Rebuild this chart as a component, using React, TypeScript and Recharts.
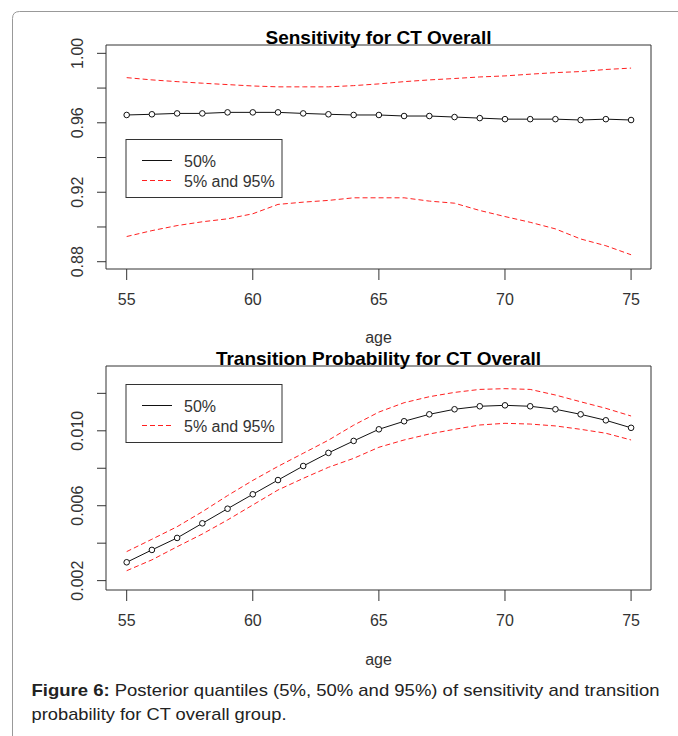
import React from 'react';
import { LineChart, Line, XAxis, YAxis, ReferenceArea } from 'recharts';

// ages on the x axis
const ages = [55, 56, 57, 58, 59, 60, 61, 62, 63, 64, 65, 66, 67, 68, 69, 70, 71, 72, 73, 74, 75];

// sensitivity quantiles
const sensMedian = [0.9645, 0.9649, 0.9654, 0.9654, 0.966, 0.966, 0.966, 0.9654, 0.9649, 0.9645, 0.9645, 0.9639, 0.9639, 0.9633, 0.9627, 0.9621, 0.9621, 0.9621, 0.9616, 0.9621, 0.9616];
const sensUpper = [0.986, 0.9847, 0.9837, 0.9828, 0.982, 0.9812, 0.9807, 0.9807, 0.9807, 0.9814, 0.9824, 0.9837, 0.9847, 0.9855, 0.9864, 0.987, 0.988, 0.9889, 0.9895, 0.9907, 0.9915];
const sensLower = [0.8945, 0.8979, 0.9008, 0.903, 0.9047, 0.9076, 0.913, 0.9143, 0.9153, 0.9168, 0.9168, 0.9168, 0.9149, 0.9137, 0.9095, 0.906, 0.9027, 0.8989, 0.8931, 0.8892, 0.884];

// transition probability quantiles
const transMedian = [0.00298, 0.00364, 0.00428, 0.00506, 0.00584, 0.00661, 0.00737, 0.00812, 0.00882, 0.00946, 0.01008, 0.01051, 0.01088, 0.01115, 0.01131, 0.01136, 0.01131, 0.01115, 0.01088, 0.01056, 0.01016];
const transUpper = [0.00355, 0.00421, 0.00488, 0.00568, 0.00654, 0.00735, 0.0081, 0.0088, 0.0095, 0.0103, 0.011, 0.0115, 0.01182, 0.01205, 0.01221, 0.01225, 0.01221, 0.01191, 0.01155, 0.0112, 0.01079];
const transLower = [0.00253, 0.00311, 0.00381, 0.00449, 0.00524, 0.00604, 0.00684, 0.00746, 0.00805, 0.00853, 0.00912, 0.00951, 0.00983, 0.01008, 0.01031, 0.0104, 0.01036, 0.01026, 0.01008, 0.00987, 0.00951];

// axis ticks
const xTicks = [55, 60, 65, 70, 75];
const sensTicks = [0.88, 0.9, 0.92, 0.94, 0.96, 0.98, 1.0];
const sensLabels = [0.88, 0.92, 0.96, 1.0];
const transTicks = [0.002, 0.004, 0.006, 0.008, 0.01, 0.012];
const transLabels = [0.002, 0.006, 0.01];

const xDomain = [54.18, 75.79];
const sensDomain = [0.8758, 1.0048];
const transDomain = [0.0015, 0.01346];

const FONT = '"Liberation Sans", Arial, sans-serif';
const INK = '#333';
const RED = '#ff2020';

const sensData = ages.map((age, i) => ({ age, median: sensMedian[i], lower: sensLower[i], upper: sensUpper[i] }));
const transData = ages.map((age, i) => ({ age, median: transMedian[i], lower: transLower[i], upper: transUpper[i] }));

const XTick = (props: any) => {
  const { x, y, payload } = props;
  return (
    <text x={x} y={y + 25} textAnchor="middle" fontSize={16} fontFamily={FONT} fill={INK}>
      {payload.value}
    </text>
  );
};

const makeYTick = (shown: number[], digits: number) => (props: any) => {
  const { x, y, payload } = props;
  const hit = shown.some(v => Math.abs(v - payload.value) < 1e-9);
  if (!hit) return <g />;
  const bx = x - 14;
  return (
    <text x={bx} y={y} transform={`rotate(-90, ${bx}, ${y})`} textAnchor="middle" fontSize={16} fontFamily={FONT} fill={INK}>
      {payload.value.toFixed(digits)}
    </text>
  );
};

const QuantilePanel = ({ data, ticks, yTick, domain, height, top }: any) => (
  <LineChart width={678} height={height} data={data} margin={{ top, right: 27, bottom: 0, left: 0 }}>
    <ReferenceArea x1={xDomain[0]} x2={xDomain[1]} y1={domain[0]} y2={domain[1]} fill="none" stroke={INK} strokeWidth={1} fillOpacity={0} ifOverflow="visible" />
    <XAxis
      dataKey="age"
      type="number"
      domain={xDomain}
      ticks={xTicks}
      allowDataOverflow
      axisLine={false}
      tickLine={{ stroke: INK }}
      tickSize={11}
      tickMargin={0}
      height={height - top - 224}
      tick={XTick}
    />
    <YAxis
      type="number"
      domain={domain}
      ticks={ticks}
      allowDataOverflow
      axisLine={false}
      tickLine={{ stroke: INK }}
      tickSize={9}
      tickMargin={0}
      width={106}
      tick={yTick}
    />
    <Line dataKey="upper" stroke={RED} strokeWidth={1} strokeDasharray="5 3" dot={false} isAnimationActive={false} />
    <Line dataKey="lower" stroke={RED} strokeWidth={1} strokeDasharray="5 3" dot={false} isAnimationActive={false} />
    <Line dataKey="median" stroke="#111" strokeWidth={1} dot={{ r: 2.8, stroke: '#111', strokeWidth: 1, fill: '#fff' }} isAnimationActive={false} />
  </LineChart>
);

const LegendBox = ({ x, y }: { x: number; y: number }) => (
  <g>
    <rect x={x} y={y} width={156} height={58} fill="#fff" stroke={INK} strokeWidth={1} />
    <line x1={x + 16} x2={x + 46} y1={y + 21} y2={y + 21} stroke="#111" strokeWidth={1} />
    <line x1={x + 16} x2={x + 46} y1={y + 41} y2={y + 41} stroke={RED} strokeWidth={1} strokeDasharray="5 3" />
    <text x={x + 58} y={y + 27} fontSize={16} fontFamily={FONT} fill={INK}>50%</text>
    <text x={x + 58} y={y + 47} fontSize={16} fontFamily={FONT} fill={INK}>5% and 95%</text>
  </g>
);

export default function App() {
  return (
    <div style={{ position: 'absolute', left: 0, top: 0, width: 678, height: 736, background: '#fff', overflow: 'hidden' }}>
      <div style={{ position: 'absolute', left: 0, top: 0 }}>
        <QuantilePanel data={sensData} ticks={sensTicks} yTick={makeYTick(sensLabels, 2)} domain={sensDomain} height={330} top={45} />
      </div>
      <div style={{ position: 'absolute', left: 0, top: 330 }}>
        <QuantilePanel data={transData} ticks={transTicks} yTick={makeYTick(transLabels, 3)} domain={transDomain} height={320} top={36} />
      </div>
      <svg width={678} height={736} style={{ position: 'absolute', left: 0, top: 0, pointerEvents: 'none' }}>
        <path d="M 678 11.5 L 19.5 11.5 Q 12.5 11.5 12.5 18.5 L 12.5 736" fill="none" stroke="#999" strokeWidth={1} />
        <text x={378.5} y={44} textAnchor="middle" fontSize={19} fontWeight="bold" fontFamily={FONT} fill="#000">Sensitivity for CT Overall</text>
        <text x={378.5} y={343} textAnchor="middle" fontSize={16} fontFamily={FONT} fill={INK}>age</text>
        <text x={378.5} y={365} textAnchor="middle" fontSize={19} fontWeight="bold" fontFamily={FONT} fill="#000">Transition Probability for CT Overall</text>
        <text x={378.5} y={665} textAnchor="middle" fontSize={16} fontFamily={FONT} fill={INK}>age</text>
        <LegendBox x={126} y={139.5} />
        <LegendBox x={126} y={384.5} />
        <text x={31.5} y={696} fontSize={17} fontFamily={FONT} fill="#222" textLength={628} lengthAdjust="spacingAndGlyphs">
          <tspan fontWeight="bold">Figure 6:</tspan> Posterior quantiles (5%, 50% and 95%) of sensitivity and transition
        </text>
        <text x={31.5} y={720} fontSize={17} fontFamily={FONT} fill="#222" textLength={255} lengthAdjust="spacingAndGlyphs">probability for CT overall group.</text>
      </svg>
    </div>
  );
}
